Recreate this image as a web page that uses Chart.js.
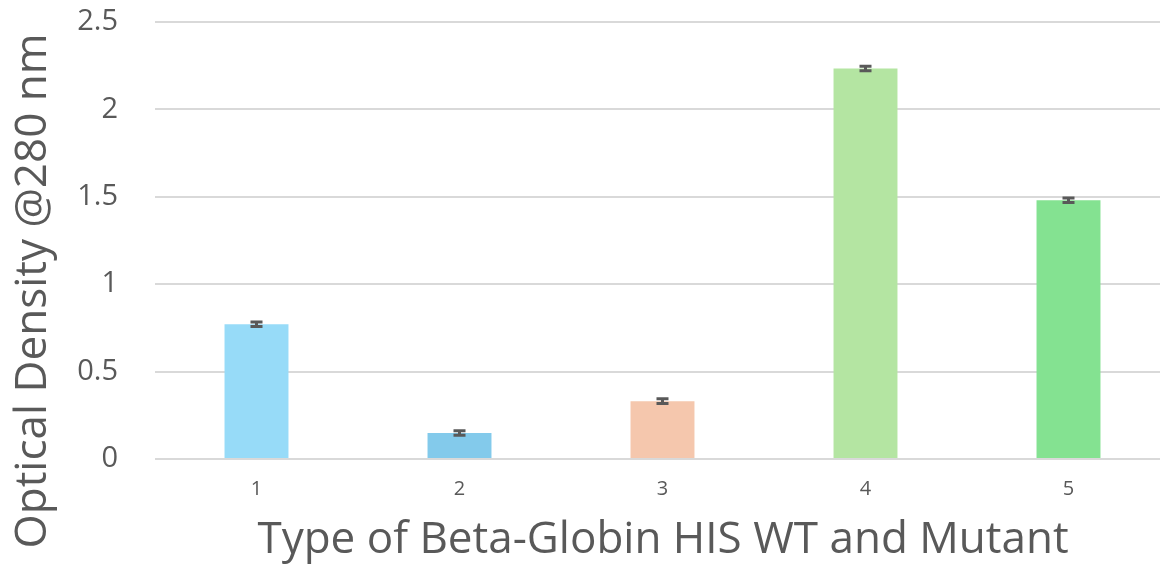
<!DOCTYPE html>
<html lang="en">
<head>
    <meta charset="UTF-8">
    <title>Optical Density</title>
    <style>
        html, body {
            margin: 0;
            padding: 0;
            background: #ffffff;
            overflow: hidden;
        }
        .wrap {
            width: 1170px;
            height: 565px;
        }
    </style>
</head>
<body>
    <div class="wrap">
        <canvas id="odChart" width="1170" height="565"></canvas>
    </div>

    <script src="https://cdn.jsdelivr.net/npm/chart.js"></script>
    <script>
        // data
        const categories = ['1', '2', '3', '4', '5'];
        const odValues = [0.771, 0.149, 0.331, 2.234, 1.480];
        const odErrors = [0.013, 0.013, 0.013, 0.013, 0.013];
        const barColors = ['#97DBF8', '#83CAEB', '#F5C7AD', '#B4E5A2', '#84E291'];
        const yTicks = [0, 0.5, 1, 1.5, 2, 2.5];

        const yTitle = 'Optical Density @280 nm';
        const xTitle = 'Type of Beta-Globin HIS WT and Mutant';
        const fontFamily = "'Open Sans', sans-serif";
        const textColor = '#595959';

        // error bars + axis titles
        const extras = {
            id: 'extras',
            afterDatasetsDraw(chart) {
                const ctx = chart.ctx;
                const meta = chart.getDatasetMeta(0);
                const y = chart.scales.y;
                ctx.save();
                ctx.strokeStyle = '#595959';
                ctx.lineWidth = 3;
                meta.data.forEach((bar, i) => {
                    const yHi = y.getPixelForValue(odValues[i] + odErrors[i]);
                    const yLo = y.getPixelForValue(odValues[i] - odErrors[i]);
                    ctx.beginPath();
                    ctx.moveTo(bar.x, yHi);
                    ctx.lineTo(bar.x, yLo);
                    ctx.moveTo(bar.x - 6, yHi);
                    ctx.lineTo(bar.x + 6, yHi);
                    ctx.moveTo(bar.x - 6, yLo);
                    ctx.lineTo(bar.x + 6, yLo);
                    ctx.stroke();
                });
                ctx.restore();
            },
            afterDraw(chart) {
                const ctx = chart.ctx;
                ctx.save();
                ctx.fillStyle = textColor;
                ctx.font = '44px ' + fontFamily;
                ctx.textAlign = 'center';
                ctx.textBaseline = 'middle';
                ctx.fillText(xTitle, 663, 540);
                ctx.translate(33, 291);
                ctx.rotate(-Math.PI / 2);
                ctx.fillText(yTitle, 0, 0);
                ctx.restore();
            }
        };

        new Chart(document.getElementById('odChart'), {
            type: 'bar',
            data: {
                labels: categories,
                datasets: [{
                    data: odValues,
                    backgroundColor: barColors,
                    borderWidth: 0,
                    categoryPercentage: 1,
                    barPercentage: 0.315
                }]
            },
            options: {
                responsive: false,
                animation: false,
                layout: { padding: 0 },
                plugins: {
                    legend: { display: false },
                    tooltip: { enabled: false }
                },
                scales: {
                    x: {
                        grid: { display: false, drawTicks: false },
                        border: { display: false },
                        ticks: {
                            color: textColor,
                            font: { family: fontFamily, size: 20 },
                            padding: 18
                        },
                        afterFit(scale) {
                            scale.height = 106;
                            scale.paddingLeft = 0;
                            scale.paddingRight = 0;
                        }
                    },
                    y: {
                        min: 0,
                        max: 2.5,
                        afterBuildTicks(scale) {
                            scale.ticks = yTicks.map(v => ({ value: v }));
                        },
                        grid: { color: '#d9d9d9', lineWidth: 2, drawTicks: false },
                        border: { display: false },
                        ticks: {
                            color: textColor,
                            font: { family: fontFamily, size: 29 },
                            padding: 37,
                            callback: v => String(v)
                        },
                        afterFit(scale) {
                            scale.width = 155;
                            scale.paddingTop = 22;
                            scale.paddingBottom = 0;
                        }
                    }
                }
            },
            plugins: [extras]
        });
    </script>
</body>
</html>
